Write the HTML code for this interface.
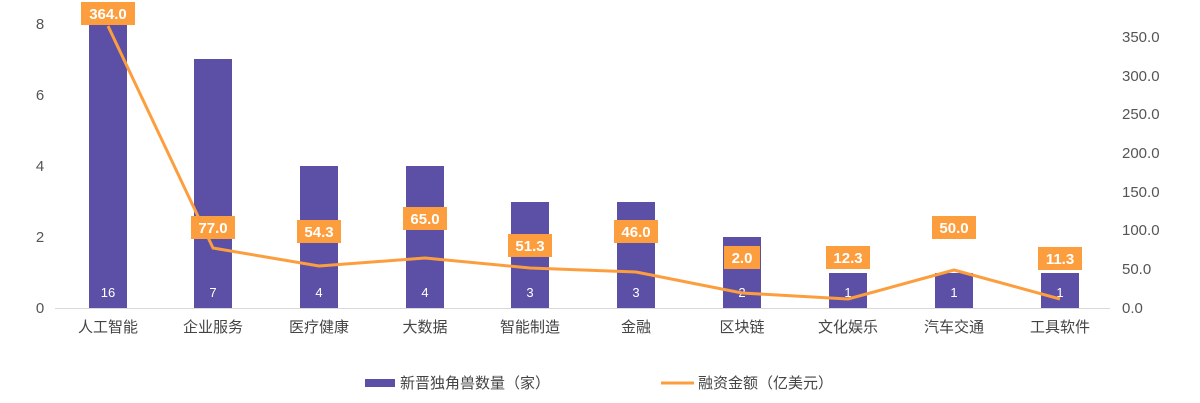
<!DOCTYPE html>
<html><head><meta charset="utf-8"><style>
html,body{margin:0;padding:0;background:#fff;}
svg{display:block;font-family:"Liberation Sans","Noto Sans CJK SC",sans-serif;}
</style></head><body>
<svg width="1200" height="403" viewBox="0 0 1200 403">
<line x1="55" y1="308.5" x2="1110" y2="308.5" stroke="#d9d9d9" stroke-width="1"/>
<g font-size="15" fill="#555" text-anchor="middle">
<text x="40" y="313">0</text><text x="40" y="242">2</text><text x="40" y="171">4</text><text x="40" y="100">6</text><text x="40" y="29">8</text>
</g>
<g font-size="15" fill="#555" text-anchor="start">
<text x="1122" y="313">0.0</text><text x="1122" y="274">50.0</text><text x="1122" y="235">100.0</text><text x="1122" y="197">150.0</text><text x="1122" y="158">200.0</text><text x="1122" y="119">250.0</text><text x="1122" y="81">300.0</text><text x="1122" y="42">350.0</text>
</g>
<g fill="#5b4fa6">
<rect x="89" y="22" width="38" height="286"/>
<rect x="194" y="59" width="38" height="249"/>
<rect x="300" y="166" width="38" height="142"/>
<rect x="406" y="166" width="38" height="142"/>
<rect x="511" y="202" width="38" height="106"/>
<rect x="617" y="202" width="38" height="106"/>
<rect x="723" y="237" width="38" height="71"/>
<rect x="829" y="273" width="38" height="35"/>
<rect x="935" y="273" width="38" height="35"/>
<rect x="1041" y="273" width="38" height="35"/>
</g>
<g font-size="13" fill="#fff" text-anchor="middle">
<text x="108" y="297">16</text><text x="213" y="297">7</text><text x="319" y="297">4</text><text x="425" y="297">4</text><text x="530" y="297">3</text><text x="636" y="297">3</text><text x="742" y="297">2</text><text x="848" y="297">1</text><text x="954" y="297">1</text><text x="1060" y="297">1</text>
</g>
<polyline fill="none" stroke="#fd9e3e" stroke-width="3" stroke-linejoin="round" points="108,26 213,248 319,266 425,258 530,268 636,272 742,293 848,299 954,270 1060,299"/>
<g font-size="15" font-weight="bold" fill="#fff" text-anchor="middle">
<rect x="81" y="2" width="54" height="23" fill="#fd9e3e"/><text x="108" y="19">364.0</text>
<rect x="191" y="216" width="44" height="23" fill="#fd9e3e"/><text x="213" y="233">77.0</text>
<rect x="297" y="220" width="44" height="23" fill="#fd9e3e"/><text x="319" y="237">54.3</text>
<rect x="403" y="207" width="44" height="23" fill="#fd9e3e"/><text x="425" y="224">65.0</text>
<rect x="508" y="234" width="44" height="23" fill="#fd9e3e"/><text x="530" y="251">51.3</text>
<rect x="614" y="220" width="44" height="23" fill="#fd9e3e"/><text x="636" y="237">46.0</text>
<rect x="724" y="246" width="36" height="23" fill="#fd9e3e"/><text x="742" y="263">2.0</text>
<rect x="826" y="246" width="44" height="23" fill="#fd9e3e"/><text x="848" y="263">12.3</text>
<rect x="932" y="216" width="44" height="23" fill="#fd9e3e"/><text x="954" y="233">50.0</text>
<rect x="1038" y="247" width="44" height="23" fill="#fd9e3e"/><text x="1060" y="264">11.3</text>
</g>
<g font-size="15" fill="#444" text-anchor="middle">
<text x="108" y="332">人工智能</text><text x="213" y="332">企业服务</text><text x="319" y="332">医疗健康</text><text x="425" y="332">大数据</text><text x="530" y="332">智能制造</text><text x="636" y="332">金融</text><text x="742" y="332">区块链</text><text x="848" y="332">文化娱乐</text><text x="954" y="332">汽车交通</text><text x="1060" y="332">工具软件</text>
</g>
<rect x="365" y="379" width="30" height="8" fill="#5b4fa6"/>
<text x="400" y="388" font-size="15" fill="#444">新晋独角兽数量（家）</text>
<line x1="661" y1="383" x2="694" y2="383" stroke="#fd9e3e" stroke-width="3"/>
<text x="698" y="388" font-size="15" fill="#444">融资金额（亿美元）</text>
</svg>
</body></html>
